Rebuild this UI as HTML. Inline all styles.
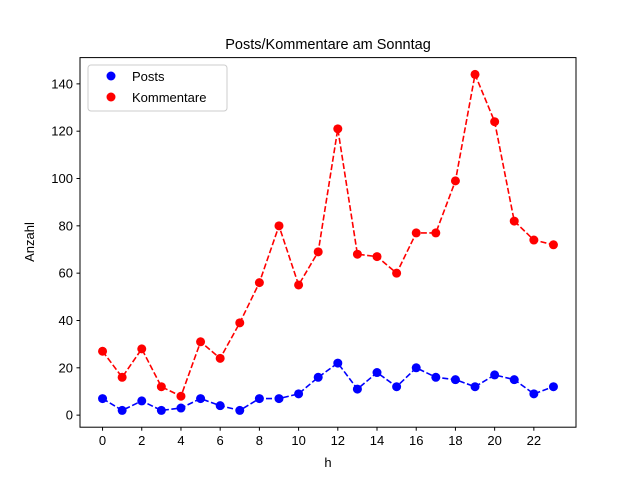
<!DOCTYPE html>
<html><head><meta charset="utf-8"><style>
body{margin:0;background:#fff}
svg{display:block;font-family:"Liberation Sans","DejaVu Sans",sans-serif}
</style></head><body>
<svg id="chart" width="640" height="480">
<rect x="0" y="0" width="640" height="480" fill="#fff"/>
<text x="328" y="49" font-size="14.5" text-anchor="middle">Posts/Kommentare am Sonntag</text>
<g id="axes"></g>
<g id="series"></g>
<rect x="80" y="57.6" width="496" height="369.6" fill="none" stroke="#000" stroke-width="1"/>
<text x="328" y="467" font-size="13" text-anchor="middle">h</text>
<text x="34" y="242" font-size="13" text-anchor="middle" transform="rotate(-90 34 242)">Anzahl</text>
<g>
<rect x="88" y="65" width="139" height="46" fill="#fff" stroke="#ccc" rx="3"/>
<g>
<circle cx="111" cy="76" r="4.5" fill="#0000ff"/>
<text x="132" y="81" font-size="13">Posts</text></g>
<g>
<circle cx="111" cy="97" r="4.5" fill="#ff0000"/>
<text x="132" y="102" font-size="13">Kommentare</text></g>
</g>
</svg>
<script>
const hours=[0,1,2,3,4,5,6,7,8,9,10,11,12,13,14,15,16,17,18,19,20,21,22,23];
const posts=[7,2,6,2,3,7,4,2,7,7,9,16,22,11,18,12,20,16,15,12,17,15,9,12];
const kommentare=[27,16,28,12,8,31,24,39,56,80,55,69,121,68,67,60,77,77,99,144,124,82,74,72];
const xTicks=[0,2,4,6,8,10,12,14,16,18,20,22];
const yTicks=[0,20,40,60,80,100,120,140];
const NS="http://www.w3.org/2000/svg";
const L=80,R=576,T=57.6,B=427.2;
const xmin=-1.15,xmax=24.15;
const allY=posts.concat(kommentare);
const dmin=Math.min(...allY),dmax=Math.max(...allY),pad=(dmax-dmin)*0.05;
const ymin=dmin-pad,ymax=dmax+pad;
const xs=v=>L+(v-xmin)/(xmax-xmin)*(R-L);
const ys=v=>B-(v-ymin)/(ymax-ymin)*(B-T);
const ax=document.getElementById('axes'),se=document.getElementById('series');
function mk(tag,attrs,parent){const e=document.createElementNS(NS,tag);for(const k in attrs)e.setAttribute(k,attrs[k]);parent.appendChild(e);return e;}
xTicks.forEach(t=>{
 const l=mk('line',{x1:xs(t),x2:xs(t),y1:B,y2:B+3.5,stroke:'#000'},ax);
 
 
 const tx=mk('text',{x:xs(t),y:B+18,'font-size':13,'text-anchor':'middle'},ax);tx.textContent=t;
 
 
});
yTicks.forEach(t=>{
 const l=mk('line',{x1:L-3.5,x2:L,y1:ys(t),y2:ys(t),stroke:'#000'},ax);
 
 
 const tx=mk('text',{x:L-7,y:ys(t)+4.5,'font-size':13,'text-anchor':'end'},ax);tx.textContent=t;
 
 
});
function series(vals,color,name){
 const p=mk('polyline',{points:hours.map((h,i)=>xs(h)+','+ys(vals[i])).join(' '),fill:'none',stroke:color,'stroke-width':1.6,'stroke-dasharray':'6,2.5'},se);
 
 
 hours.forEach((h,i)=>{
  const c=mk('circle',{cx:xs(h),cy:ys(vals[i]),r:4.5,fill:color},se);
  
  
 });
}
series(posts,'#0000ff','posts');
series(kommentare,'#ff0000','kommentare');
</script>
</body></html>
